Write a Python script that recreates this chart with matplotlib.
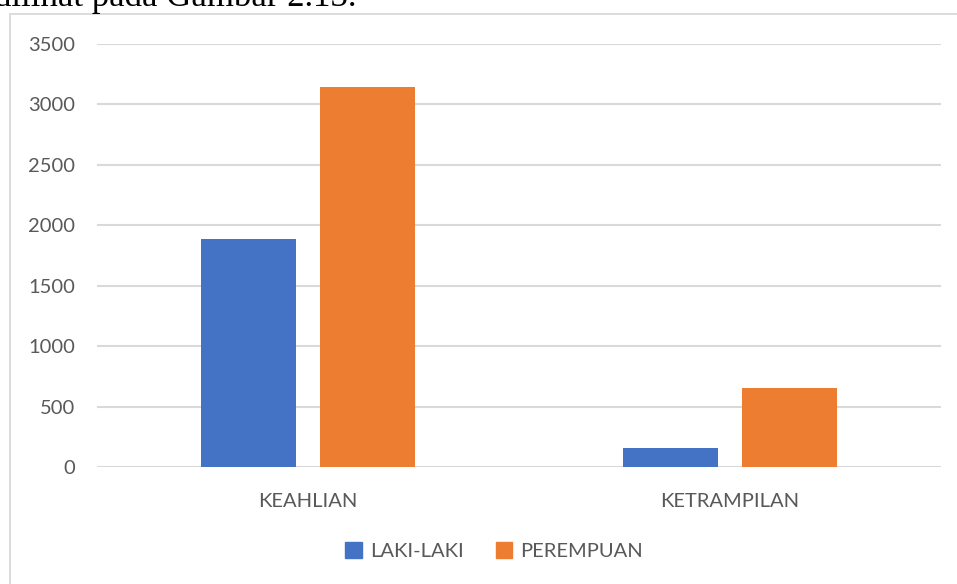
import matplotlib
matplotlib.use("Agg")
import matplotlib.pyplot as plt
from matplotlib.patches import Rectangle, Patch
import numpy as np

categories = ["KEAHLIAN", "KETRAMPILAN"]
series_names = ["LAKI-LAKI", "PEREMPUAN"]
laki = [1890, 155]
perempuan = [3145, 655]
yticks = [0, 500, 1000, 1500, 2000, 2500, 3000, 3500]

blue = "#4472C4"
orange = "#ED7D31"
grey_text = "#595959"
grid_c = "#D9D9D9"

plt.rcParams['font.family'] = ['Lato', 'DejaVu Sans']

W, H = 957, 584
fig = plt.figure(figsize=(W / 100, H / 100), dpi=100)

# chart border (extends beyond right/bottom edge)
fig.patches.append(Rectangle((10 / W, -0.05), 1.2, (H - 14) / H + 0.05,
                             transform=fig.transFigure, fill=False,
                             edgecolor=grid_c, linewidth=1.3))

# clipped preceding document text
fig.text(-0.006, 1 - 6 / H, "dilihat pada Gambar 2.13.", family=['Liberation Serif', 'DejaVu Serif'],
         fontsize=25, color="black", va="baseline", ha="left")

ax = fig.add_axes([97 / W, (H - 467) / H, (941 - 97) / W, (467 - 44) / H])
x = np.arange(len(categories))
bw = 0.223
off = 0.141
ax.bar(x - off, laki, bw, color=blue, label=series_names[0], zorder=3)
ax.bar(x + off, perempuan, bw, color=orange, label=series_names[1], zorder=3)

ax.set_xlim(-0.5, len(categories) - 0.5)
ax.set_ylim(0, 3500)
ax.set_yticks(yticks)
ax.set_yticklabels([str(v) for v in yticks])
ax.set_xticks(x)
ax.set_xticklabels(categories)
ax.tick_params(axis='both', length=0, colors=grey_text, labelsize=14.5)
ax.tick_params(axis='y', pad=15.5)
ax.tick_params(axis='x', pad=18.5)
ax.grid(axis='y', color=grid_c, linewidth=1.5, zorder=0)
for s in ax.spines.values():
    s.set_visible(False)
ax.set_facecolor('none')

handles = [Patch(color=blue), Patch(color=orange)]
fig.legend(handles, series_names, loc='center', bbox_to_anchor=(494 / W, 1 - 551 / H),
           ncol=2, frameon=False, fontsize=14.5, handlelength=0.8, handleheight=0.8,
           handletextpad=0.4, columnspacing=1.6, labelcolor=grey_text)

fig.savefig("out.png", dpi=100)
